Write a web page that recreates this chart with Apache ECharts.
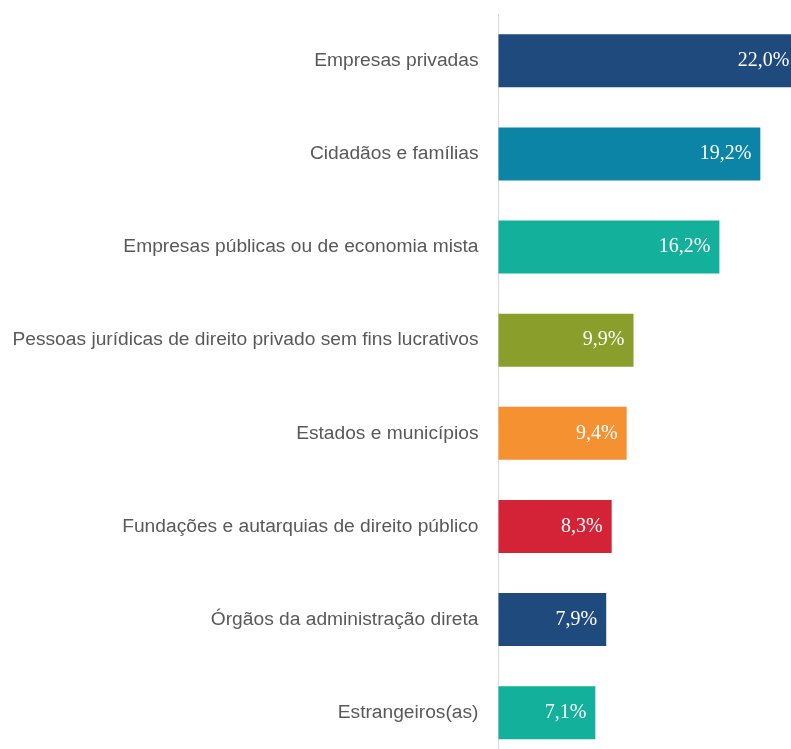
<!DOCTYPE html>
<html><head><meta charset="utf-8">
<script src="https://cdn.jsdelivr.net/npm/echarts@6/dist/echarts.min.js"></script>
<style>html,body{margin:0;padding:0;background:#fff;overflow:hidden;width:791px;height:749px}#c{width:810px;height:770px}</style>
</head><body><div id="c"></div>
<script>
const categories = ["Empresas privadas","Cidadãos e famílias","Empresas públicas ou de economia mista","Pessoas jurídicas de direito privado sem fins lucrativos","Estados e municípios","Fundações e autarquias de direito público","Órgãos da administração direta","Estrangeiros(as)"];
const values = [22.0, 19.2, 16.2, 9.9, 9.4, 8.3, 7.9, 7.1];
const colors = ["#1F4A7D","#0B84A5","#13B09B","#8A9F2B","#F59130","#D42336","#1F4A7D","#13B09B"];
const chart = echarts.init(document.getElementById('c'));
chart.setOption({
  animation:false,
  grid:{left:498.5, top:14.25, width:300, height:745, outerBoundsMode:'none', containLabel:false},
  xAxis:{type:'value', min:0, max:22, show:false},
  yAxis:{type:'category', inverse:true, data:categories,
    axisLine:{show:true, lineStyle:{color:'#D9D9D9', width:1}},
    axisTick:{show:false},
    axisLabel:{color:'#595959', fontFamily:'Liberation Sans, Arial', fontSize:19.2, margin:20}},
  series:[{type:'bar', clip:false, barWidth:53,
    data: values.map((v,i)=>({value:v, itemStyle:{color:colors[i]}})),
    label:{show:true, position:'insideRight', distance:9, color:'#fff',
      fontFamily:'Liberation Serif, Times New Roman', fontSize:20,
      formatter:p=>p.value.toFixed(1).replace('.',',')+'%'}}]
});
</script></body></html>
